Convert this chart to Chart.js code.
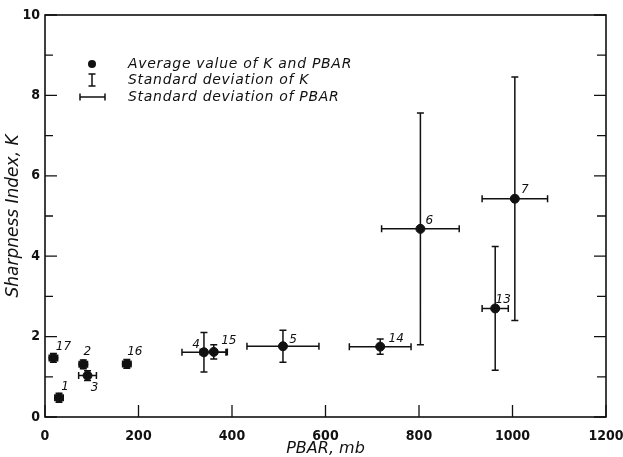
<!DOCTYPE html>
<html>
<head>
<meta charset="utf-8">
<script src="https://cdn.jsdelivr.net/npm/chart.js@4"></script>
<style>
  html, body { margin: 0; padding: 0; background: #fff; }
  #wrap { width: 623px; height: 457px; }
</style>
</head>
<body>
<div id="wrap"><canvas id="c" width="623" height="457"></canvas></div>
<script>
// ---- data ----
const pointIds = ['17', '1', '2', '3', '16', '4', '15', '5', '14', '6', '13', '7'];
const pbar     = [18, 30, 82, 91, 175, 340, 361, 509, 717, 803, 963, 1005];
const kValues  = [1.47, 0.48, 1.31, 1.03, 1.32, 1.61, 1.62, 1.76, 1.75, 4.68, 2.70, 5.43];
const pbarSd   = [9, 9, 9, 19, 9, 47, 29, 77, 66, 83, 28, 70];
const kSd      = [0.11, 0.11, 0.11, 0.12, 0.11, 0.49, 0.18, 0.40, 0.19, 2.88, 1.54, 3.03];
const xTickValues = [0, 200, 400, 600, 800, 1000, 1200];
const yTickValues = [0, 2, 4, 6, 8, 10];
const yMinorValues = [1, 3, 5, 7, 9];
const legendLabels = ['Average value of K and PBAR', 'Standard deviation of K', 'Standard deviation of PBAR'];
const xTitle = 'PBAR, mb';
const yTitle = 'Sharpness Index, K';

// label offsets (style only)
const labelOffsets = [[10,-11],[6,-11],[4,-12],[7,12],[8,-12],[-8,-7],[15,-11],[10,-6],[16,-8],[9,-8],[8,-9],[10,-9]];

const INK = '#111';
const tickFont = '"DejaVu Sans Condensed", "Liberation Sans Narrow", sans-serif';
const italicFont = '"DejaVu Sans", "Liberation Sans", sans-serif';

const framePlugin = {
  id: 'frame',
  beforeDatasetsDraw(chart) {
    const { ctx, chartArea: a, scales: { x, y } } = chart;
    ctx.save();
    ctx.strokeStyle = INK;
    ctx.lineWidth = 1.6;
    ctx.strokeRect(a.left, a.top, a.right - a.left, a.bottom - a.top);
    ctx.lineWidth = 1.3;
    ctx.beginPath();
    xTickValues.forEach(v => {
      const px = x.getPixelForValue(v);
      ctx.moveTo(px, a.bottom); ctx.lineTo(px, a.bottom - 12);
    });
    yTickValues.forEach(v => {
      const py = y.getPixelForValue(v);
      ctx.moveTo(a.left, py); ctx.lineTo(a.left + 12, py);
      ctx.moveTo(a.right, py); ctx.lineTo(a.right - 12, py);
    });
    yMinorValues.forEach(v => {
      const py = y.getPixelForValue(v);
      ctx.moveTo(a.left, py); ctx.lineTo(a.left + 8, py);
      ctx.moveTo(a.right, py); ctx.lineTo(a.right - 9, py);
    });
    ctx.stroke();

    // error bars
    ctx.lineWidth = 1.5;
    const cap = 3.5;
    ctx.beginPath();
    pbar.forEach((xv, i) => {
      const cx = x.getPixelForValue(xv), cy = y.getPixelForValue(kValues[i]);
      const x0 = x.getPixelForValue(xv - pbarSd[i]), x1 = x.getPixelForValue(xv + pbarSd[i]);
      const y0 = y.getPixelForValue(kValues[i] - kSd[i]), y1 = y.getPixelForValue(kValues[i] + kSd[i]);
      ctx.moveTo(x0, cy); ctx.lineTo(x1, cy);
      ctx.moveTo(x0, cy - cap); ctx.lineTo(x0, cy + cap);
      ctx.moveTo(x1, cy - cap); ctx.lineTo(x1, cy + cap);
      ctx.moveTo(cx, y0); ctx.lineTo(cx, y1);
      ctx.moveTo(cx - cap, y0); ctx.lineTo(cx + cap, y0);
      ctx.moveTo(cx - cap, y1); ctx.lineTo(cx + cap, y1);
    });
    ctx.stroke();
    ctx.restore();
  },
  afterDraw(chart) {
    const { ctx, scales: { x, y } } = chart;
    ctx.save();
    ctx.fillStyle = INK;
    // point labels
    ctx.font = 'italic 12px ' + italicFont;
    ctx.textAlign = 'center';
    ctx.textBaseline = 'middle';
    pointIds.forEach((id, i) => {
      const cx = x.getPixelForValue(pbar[i]), cy = y.getPixelForValue(kValues[i]);
      ctx.fillText(id, cx + labelOffsets[i][0], cy + labelOffsets[i][1]);
    });
    // legend
    const lx = 92, rows = [64, 80, 97], tx = 128;
    ctx.beginPath(); ctx.arc(lx, rows[0], 4, 0, Math.PI * 2); ctx.fill();
    ctx.strokeStyle = INK; ctx.lineWidth = 1.5;
    ctx.beginPath();
    ctx.moveTo(lx, rows[1] - 6); ctx.lineTo(lx, rows[1] + 6);
    ctx.moveTo(lx - 3.5, rows[1] - 6); ctx.lineTo(lx + 3.5, rows[1] - 6);
    ctx.moveTo(lx - 3.5, rows[1] + 6); ctx.lineTo(lx + 3.5, rows[1] + 6);
    ctx.moveTo(80, rows[2]); ctx.lineTo(105, rows[2]);
    ctx.moveTo(80, rows[2] - 3.5); ctx.lineTo(80, rows[2] + 3.5);
    ctx.moveTo(105, rows[2] - 3.5); ctx.lineTo(105, rows[2] + 3.5);
    ctx.stroke();
    ctx.font = 'italic 14px ' + italicFont;
    ctx.letterSpacing = '0.7px';
    ctx.textAlign = 'left';
    legendLabels.forEach((t, i) => ctx.fillText(t, tx, rows[i]));
    ctx.restore();
  }
};

new Chart(document.getElementById('c'), {
  type: 'scatter',
  data: {
    datasets: [{
      data: pbar.map((v, i) => ({ x: v, y: kValues[i] })),
      backgroundColor: INK,
      borderColor: INK,
      pointRadius: 4.5,
      pointHoverRadius: 4.5
    }]
  },
  options: {
    responsive: false,
    animation: false,
    events: [],
    layout: { padding: { top: 15, right: 17, bottom: 0, left: 0 } },
    plugins: { legend: { display: false }, tooltip: { enabled: false } },
    scales: {
      x: {
        type: 'linear', min: 0, max: 1200,
        afterBuildTicks: s => { s.ticks = xTickValues.map(v => ({ value: v })); },
        afterFit: s => { s.height = 40; s.paddingLeft = 0; s.paddingRight = 0; },
        grid: { display: false, drawTicks: false },
        border: { display: false },
        ticks: { color: INK, padding: 11, maxRotation: 0, callback: v => String(v),
                 font: { family: tickFont, size: 14, weight: 'bold' } },
        title: { display: true, text: xTitle, color: INK, padding: { top: 0, bottom: -1 },
                 font: { family: italicFont, size: 16, style: 'italic' } }
      },
      y: {
        type: 'linear', min: 0, max: 10,
        afterBuildTicks: s => { s.ticks = yTickValues.map(v => ({ value: v })); },
        afterFit: s => { s.width = 45; s.paddingTop = 0; s.paddingBottom = 0; },
        grid: { display: false, drawTicks: false },
        border: { display: false },
        ticks: { color: INK, padding: 5, callback: v => String(v),
                 font: { family: tickFont, size: 14, weight: 'bold' } },
        title: { display: true, text: yTitle, color: INK, padding: { top: 3, bottom: 2 },
                 font: { family: italicFont, size: 17, style: 'italic' } }
      }
    }
  },
  plugins: [framePlugin]
});
</script>
</body>
</html>
